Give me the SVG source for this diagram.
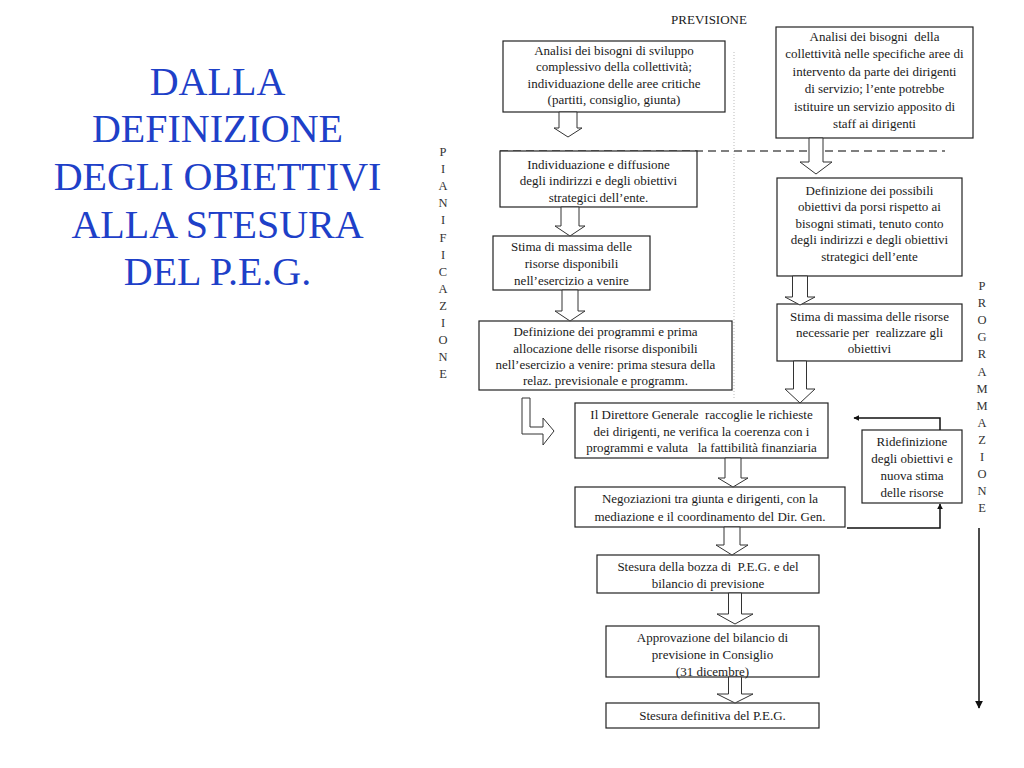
<svg xmlns="http://www.w3.org/2000/svg" width="1024" height="768" viewBox="0 0 1024 768">
<defs>
<style>
.box{fill:#fff;stroke:#222;stroke-width:1.2}
.t{font-family:"Liberation Serif","Times New Roman",serif;font-size:13px;fill:#1a1a1a;text-anchor:middle;white-space:pre}
.title{font-family:"Liberation Serif","Times New Roman",serif;font-size:40px;fill:#1e40c8;text-anchor:middle}
.v{font-family:"Liberation Serif","Times New Roman",serif;font-size:12.5px;fill:#333;text-anchor:middle}
.blk{fill:#fff;stroke:#333;stroke-width:1}
.ln{fill:none;stroke:#111;stroke-width:1.5}
</style>
<marker id="ah" viewBox="0 0 10 10" refX="9" refY="5" markerWidth="6" markerHeight="6" markerUnits="userSpaceOnUse" orient="auto">
<path d="M0,0 L10,5 L0,10 Z" fill="#111"/>
</marker>
<marker id="ah2" viewBox="0 0 10 10" refX="9" refY="5" markerWidth="8" markerHeight="8" markerUnits="userSpaceOnUse" orient="auto">
<path d="M0,0 L10,5 L0,10 Z" fill="#111"/>
</marker>
</defs>
<rect width="1024" height="768" fill="#fff"/>

<g id="title">
<text class="title" x="217.5" y="95">DALLA</text>
<text class="title" x="217.5" y="142">DEFINIZIONE</text>
<text class="title" x="217.5" y="190">DEGLI OBIETTIVI</text>
<text class="title" x="217.5" y="238">ALLA STESURA</text>
<text class="title" x="217.5" y="285">DEL P.E.G.</text>
</g>

<g id="labels">
<text class="t" x="709" y="24">PREVISIONE</text>
<text class="v"><tspan x="443" y="156">P</tspan><tspan x="443" dy="17.1">I</tspan><tspan x="443" dy="17.1">A</tspan><tspan x="443" dy="17.1">N</tspan><tspan x="443" dy="17.1">I</tspan><tspan x="443" dy="17.1">F</tspan><tspan x="443" dy="17.1">I</tspan><tspan x="443" dy="17.1">C</tspan><tspan x="443" dy="17.1">A</tspan><tspan x="443" dy="17.1">Z</tspan><tspan x="443" dy="17.1">I</tspan><tspan x="443" dy="17.1">O</tspan><tspan x="443" dy="17.1">N</tspan><tspan x="443" dy="17.1">E</tspan></text>
<text class="v"><tspan x="982" y="290">P</tspan><tspan x="982" dy="17.1">R</tspan><tspan x="982" dy="17.1">O</tspan><tspan x="982" dy="17.1">G</tspan><tspan x="982" dy="17.1">R</tspan><tspan x="982" dy="17.1">A</tspan><tspan x="982" dy="17.1">M</tspan><tspan x="982" dy="17.1">M</tspan><tspan x="982" dy="17.1">A</tspan><tspan x="982" dy="17.1">Z</tspan><tspan x="982" dy="17.1">I</tspan><tspan x="982" dy="17.1">O</tspan><tspan x="982" dy="17.1">N</tspan><tspan x="982" dy="17.1">E</tspan></text>
</g>

<g id="guides">
<line x1="734" y1="52" x2="734" y2="398" stroke="#bbb" stroke-width="1" stroke-dasharray="1 2"/>
<line x1="500" y1="151" x2="945" y2="151" stroke="#555" stroke-width="1.3" stroke-dasharray="8 5"/>
</g>

<g id="n1">
<rect class="box" x="503" y="41" width="222" height="71"/>
<text class="t" x="614" y="54.5">Analisi dei bisogni di sviluppo</text>
<text class="t" x="614" y="71">complessivo della collettività;</text>
<text class="t" x="614" y="87.5">individuazione delle aree critiche</text>
<text class="t" x="614" y="104">(partiti, consiglio, giunta)</text>
</g>

<g id="n2">
<rect class="box" x="776" y="27" width="197" height="111"/>
<text class="t" x="874.5" y="40.5">Analisi dei bisogni  della</text>
<text class="t" x="874.5" y="58">collettività nelle specifiche aree di</text>
<text class="t" x="874.5" y="75.5">intervento da parte dei dirigenti</text>
<text class="t" x="874.5" y="93">di servizio; l’ente potrebbe</text>
<text class="t" x="874.5" y="110.5">istituire un servizio apposito di</text>
<text class="t" x="874.5" y="128">staff ai dirigenti</text>
</g>

<g id="n3">
<rect class="box" x="500" y="151" width="197" height="56"/>
<text class="t" x="598.5" y="168.5">Individuazione e diffusione</text>
<text class="t" x="598.5" y="185">degli indirizzi e degli obiettivi</text>
<text class="t" x="598.5" y="201.5">strategici dell’ente.</text>
</g>

<g id="n4">
<rect class="box" x="493" y="236" width="157" height="54"/>
<text class="t" x="571.5" y="251">Stima di massima delle</text>
<text class="t" x="571.5" y="268">risorse disponibili</text>
<text class="t" x="571.5" y="285">nell’esercizio a venire</text>
</g>

<g id="n5">
<rect class="box" x="479" y="321" width="253" height="69"/>
<text class="t" x="605.5" y="336">Definizione dei programmi e prima</text>
<text class="t" x="605.5" y="352.5">allocazione delle risorse disponibili</text>
<text class="t" x="605.5" y="369">nell’esercizio a venire: prima stesura della</text>
<text class="t" x="605.5" y="385">relaz. previsionale e programm.</text>
</g>

<g id="n6">
<rect class="box" x="777" y="178" width="185" height="98"/>
<text class="t" x="869.5" y="194.5">Definizione dei possibili</text>
<text class="t" x="869.5" y="211">obiettivi da porsi rispetto ai</text>
<text class="t" x="869.5" y="227.5">bisogni stimati, tenuto conto</text>
<text class="t" x="869.5" y="244">degli indirizzi e degli obiettivi</text>
<text class="t" x="869.5" y="260.5">strategici dell’ente</text>
</g>

<g id="n7">
<rect class="box" x="777" y="304" width="185" height="57"/>
<text class="t" x="869.5" y="320.5">Stima di massima delle risorse</text>
<text class="t" x="869.5" y="336.5">necessarie per  realizzare gli</text>
<text class="t" x="869.5" y="352.5">obiettivi</text>
</g>

<g id="n8">
<rect class="box" x="575" y="403" width="253" height="55"/>
<text class="t" x="701.5" y="418.5">Il Direttore Generale  raccoglie le richieste</text>
<text class="t" x="701.5" y="435.5">dei dirigenti, ne verifica la coerenza con i</text>
<text class="t" x="701.5" y="451.5">programmi e valuta   la fattibilità finanziaria</text>
</g>

<g id="n9">
<rect class="box" x="575" y="487" width="270" height="40"/>
<text class="t" x="710" y="502.5">Negoziazioni tra giunta e dirigenti, con la</text>
<text class="t" x="710" y="520.5">mediazione e il coordinamento del Dir. Gen.</text>
</g>

<g id="n10">
<rect class="box" x="862" y="430" width="100" height="73"/>
<text class="t" x="912" y="445.5">Ridefinizione</text>
<text class="t" x="912" y="462.5">degli obiettivi e</text>
<text class="t" x="912" y="479.5">nuova stima</text>
<text class="t" x="912" y="496.5">delle risorse</text>
</g>

<g id="n11">
<rect class="box" x="597" y="555" width="222" height="38"/>
<text class="t" x="708" y="570.5">Stesura della bozza di  P.E.G. e del</text>
<text class="t" x="708" y="587.5">bilancio di previsione</text>
</g>

<g id="n12">
<rect class="box" x="606" y="626" width="213" height="51"/>
<text class="t" x="712.5" y="641.5">Approvazione del bilancio di</text>
<text class="t" x="712.5" y="658.5">previsione in Consiglio</text>
<text class="t" x="712.5" y="675.5">(31 dicembre)</text>
</g>

<g id="n13">
<rect class="box" x="606" y="703" width="213" height="25"/>
<text class="t" x="712.5" y="719.5">Stesura definitiva del P.E.G.</text>
</g>

<g id="connectors">
<path class="blk" d="M559,112 L577,112 L577,128 L582,128 L568,137 L554,128 L559,128 Z"/>
<path class="blk" d="M561,207 L579,207 L579,226 L585,226 L570,236 L555,226 L561,226 Z"/>
<path class="blk" d="M562,290 L578,290 L578,311 L585,311 L570,321 L555,311 L562,311 Z"/>
<path class="blk" d="M809,138 L823,138 L823,162 L832,162 L816,174 L800,162 L809,162 Z"/>
<path class="blk" d="M792.5,276 L807.5,276 L807.5,297 L815,297 L800,305 L785,297 L792.5,297 Z"/>
<path class="blk" d="M793.5,361 L806.5,361 L806.5,389 L815,389 L800,403 L785,389 L793.5,389 Z"/>
<path class="blk" d="M725,458 L741,458 L741,478 L748,478 L733,487 L718,478 L725,478 Z"/>
<path class="blk" d="M724,527 L740,527 L740,545 L748,545 L732,555 L716,545 L724,545 Z"/>
<path class="blk" d="M728.5,593 L741.5,593 L741.5,614 L753,614 L735,624 L717,614 L728.5,614 Z"/>
<path class="blk" d="M728.5,677 L741.5,677 L741.5,694 L753,694 L735,703 L717,694 L728.5,694 Z"/>
<path class="blk" d="M522,398 L530,398 L530,427 L543,427 L543,418 L554,431 L543,445 L543,434 L522,434 Z"/>
<polyline class="ln" points="847,528 940,528 940,504" marker-end="url(#ah)"/>
<polyline class="ln" points="940,430 940,418 854,418" marker-end="url(#ah)"/>
<line class="ln" x1="979" y1="528" x2="979" y2="708" marker-end="url(#ah2)"/>
</g>
</svg>
